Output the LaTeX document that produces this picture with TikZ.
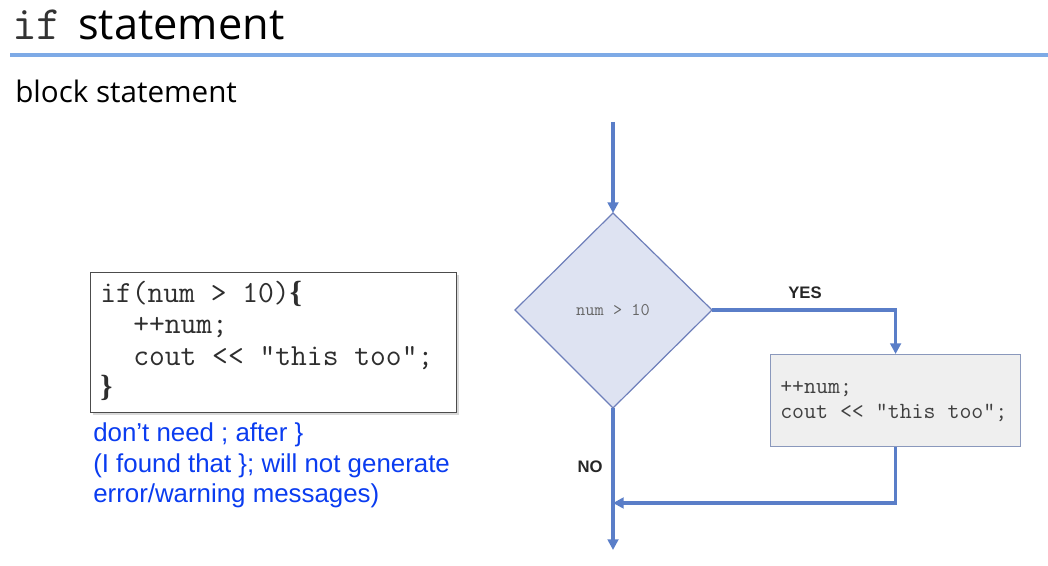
\documentclass[tikz,border=0pt]{standalone}
\usepackage{fontspec}
\setmainfont{Liberation Sans}
\newfontfamily\titlefont{Open Sans}
\newfontfamily\bracefont{Liberation Serif}
\usetikzlibrary{arrows.meta,shadows}
\definecolor{flow}{HTML}{5A7EC8}
\definecolor{rule}{HTML}{7EAAE6}
\definecolor{dfill}{HTML}{DEE3F2}
\definecolor{dline}{HTML}{6E7FBA}
\definecolor{bfill}{HTML}{EFEFEF}
\definecolor{bline}{HTML}{8A98BC}
\definecolor{note}{HTML}{0A3CF0}
\definecolor{code}{HTML}{2E2E2E}
\newcommand{\bbrace}[1]{{\bracefont\bfseries #1}}
\tikzset{
  flowline/.style={draw=flow,line width=2.5pt,-{Triangle[length=8pt,width=8pt]}},
  flowplain/.style={draw=flow,line width=2.5pt},
  codeline/.style={anchor=base west,inner sep=0pt,font=\ttfamily\fontsize{23}{27}\selectfont,text=code},
  noteline/.style={anchor=base west,inner sep=0pt,font=\fontsize{19.4}{23}\selectfont,text=note},
  lbl/.style={anchor=base,inner sep=0pt,font=\fontsize{12.5}{15}\selectfont\bfseries,text=black!85},
  boxcode/.style={anchor=base west,inner sep=0pt,font=\ttfamily\fontsize{17.4}{20}\selectfont,text=black!75},
}
\begin{document}
\begin{tikzpicture}[x=0.75pt,y=-0.75pt]
\useasboundingbox (0,0) rectangle (1048,566);
% title
\node[anchor=base west,inner sep=0pt,font=\ttfamily\fontsize{36}{42}\selectfont,text=black!80] (tif) at (12,40) {if};
\node[anchor=base west,inner sep=0pt,font=\titlefont\fontsize{32.5}{38}\selectfont] (tst) at (78,40) {statement};
\draw[rule,line width=3pt] (10,55) -- (1048,55);
\node[anchor=base west,inner sep=0pt,font=\titlefont\fontsize{22.2}{26}\selectfont] (sub) at (15,103) {block statement};
% code box
\node[draw=black!70,line width=1pt,fill=white,drop shadow={shadow xshift=1.5pt,shadow yshift=-1.5pt,opacity=0.3},minimum width=274.5pt,minimum height=105pt,anchor=north west,inner sep=0pt] (cbox) at (90,272) {};
\node[codeline] (c1) at (100,302) {if(num > 10)\bbrace{\{}};
\node[codeline] (c2) at (133,333) {++num;};
\node[codeline] (c3) at (133,365) {cout << "this too";};
\node[codeline] (c4) at (100,396) {\bbrace{\}}};
% notes
\node[noteline] (n1) at (93,441) {don’t need ; after \}};
\node[noteline] (n2) at (93,472) {(I found that \}; will not generate};
\node[noteline] (n3) at (93,502) {error/warning messages)};
% flowchart
\coordinate (start) at (613,122);
\coordinate (dt) at (613,213);
\coordinate (db) at (613,408);
\coordinate (dl) at (515,310);
\coordinate (dr) at (712,310);
\path[fill=dfill,draw=dline,line width=0.9pt] (dt) -- (dr) -- (db) -- (dl) -- cycle;
\node[inner sep=0pt,font=\ttfamily\fontsize{13.4}{16}\selectfont,text=black!60] (cond) at (613,310) {num > 10};
\node[draw=bline,fill=bfill,line width=0.9pt,minimum width=187.5pt,minimum height=69pt,anchor=north west,inner sep=0pt] (box) at (770,354) {};
\node[boxcode] (b1) at (780,393) {++num;};
\node[boxcode] (b2) at (780,418) {cout << "this too";};
\coordinate (merge) at (613,503);
\coordinate (end) at (613,550);
\draw[flowline] (start) -- (dt);
\draw[flowline] (dr) -| (box.north);
\draw[flowplain] (db) -- (merge);
\draw[flowline] (merge) -- (end);
\draw[flowline] (box.south) |- (merge);
\node[lbl] (yes) at (805,299) {YES};
\node[lbl] (no) at (590,472) {NO};
\end{tikzpicture}
\end{document}
